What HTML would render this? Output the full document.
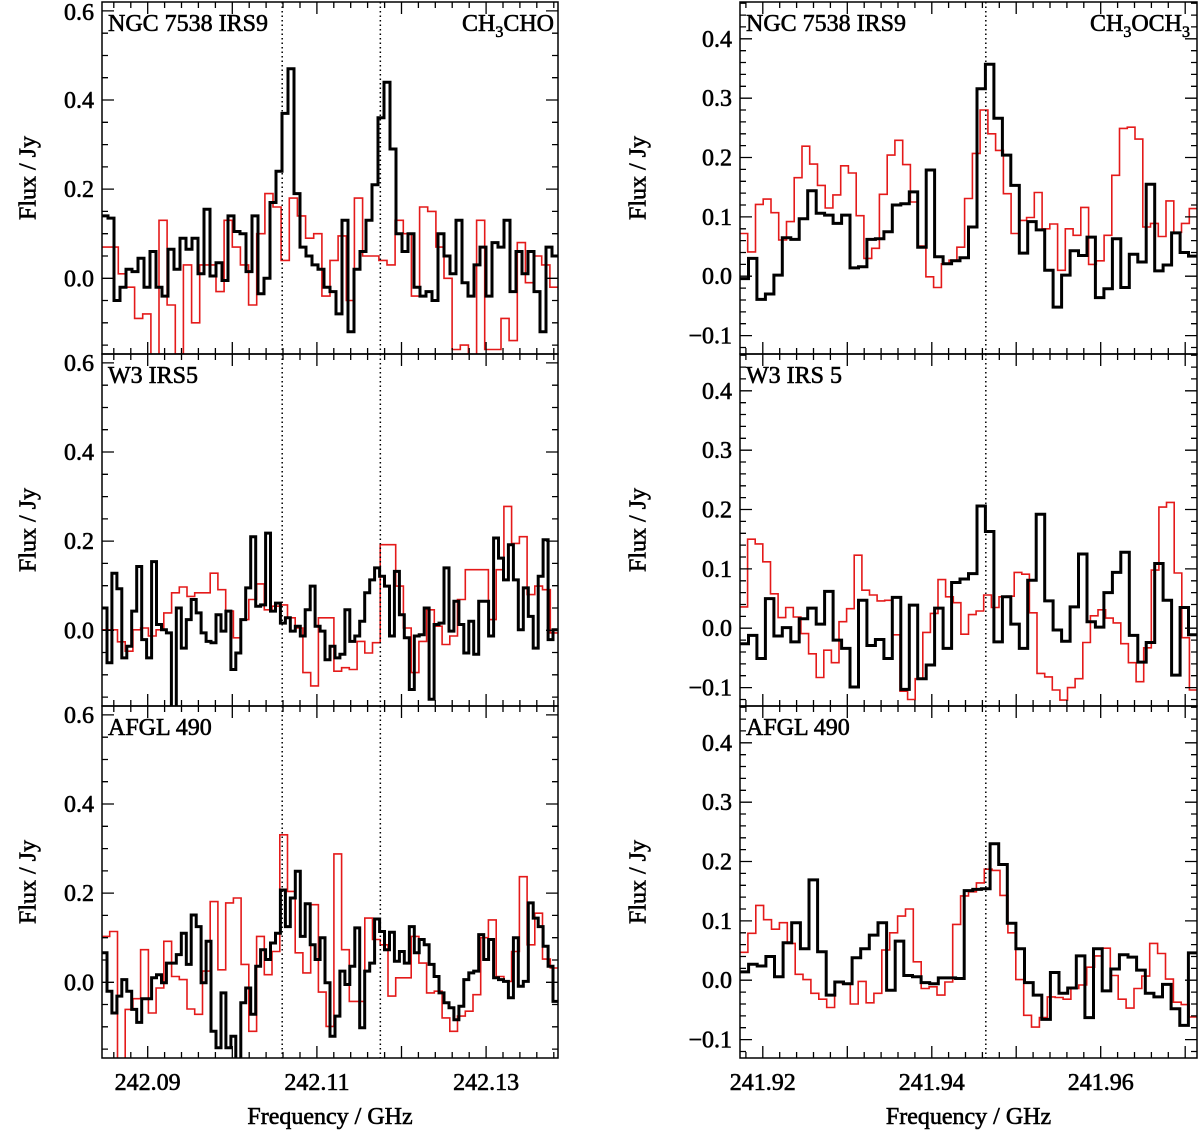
<!DOCTYPE html>
<html><head><meta charset="utf-8"><style>
html,body{margin:0;padding:0;background:#fff;}
svg{display:block;font-family:"Liberation Serif",serif;}
svg text{stroke:#000;stroke-width:0.6px;}
</style></head><body>
<svg id="chart" width="1200" height="1140" viewBox="0 0 1200 1140" xmlns="http://www.w3.org/2000/svg"></svg>
<script>
// ---- data ----
const leftXTicks = [242.09, 242.11, 242.13];
const rightXTicks = [241.92, 241.94, 241.96];
const leftYTicks = [0.0, 0.2, 0.4, 0.6];
const rightYTicks = [-0.1, 0.0, 0.1, 0.2, 0.3, 0.4];
const leftLines = [242.1059, 242.1175];
const rightLines = [241.9464];
const sourceNames = ["NGC 7538 IRS9", "W3 IRS5", "AFGL 490"];
const sourceNamesRight = ["NGC 7538 IRS9", "W3 IRS 5", "AFGL 490"];

const blackL1 = [0.14,0.135,-0.05,-0.02,0.02,0.015,0.045,-0.02,0.06,-0.02,-0.04,0.065,0.02,0.09,0.065,0.09,0.01,0.155,0.005,0.035,-0.005,0.14,0.105,0.1,0.015,0.14,-0.035,0,0.17,0.24,0.37,0.47,0.19,0.07,0.05,0.03,0.02,-0.02,-0.03,-0.08,0.13,-0.12,0.02,0.06,0.13,0.21,0.36,0.44,0.29,0.1,0.06,0.1,-0.02,-0.04,-0.03,-0.05,0.1,0.05,0.01,0.13,-0.01,-0.04,0.03,0.07,-0.04,0.08,0.07,0.13,-0.03,0.06,0.01,0.06,-0.03,-0.12,0.07,0.05];
const redL1 = [0.07,0.07,0.01,-0.02,-0.09,-0.08,-0.2,0.13,-0.06,-0.17,0.03,-0.1,0.03,0.03,-0.03,0.13,0.07,0.03,-0.06,0.1,0.19,0.16,0.04,0.18,0.14,0.09,0.1,-0.04,0.04,0.095,-0.05,0.18,0.05,0.05,0.04,0.03,0.13,0.1,-0.04,0.16,0.15,0.07,0.0,-0.16,-0.15,-0.2,0.13,-0.16,-0.16,-0.09,-0.14,0.08,-0.01,0.05,0.03,-0.02];
const blackL2 = [0.05,-0.073,0.128,0.093,-0.062,-0.036,0.043,0.143,-0.021,-0.062,0.154,0.013,0.001,-0.006,-0.2,0.05,-0.04,0.024,0.069,0.039,-0.006,-0.025,-0.028,0.035,-0.002,0.043,-0.088,-0.051,0.024,0.095,0.21,0.054,0.057,0.218,0.043,0.061,0.016,0.028,-0.002,0.009,-0.013,0.046,0.099,0.009,-0.002,-0.066,-0.036,-0.062,-0.054,0.046,-0.025,-0.013,0.02,0.084,0.113,0.14,0.121,0.099,-0.013,0.132,0.035,-0.017,-0.133,-0.013,-0.01,0.05,-0.155,0.013,0.016,0.14,-0.002,0.065,0.013,-0.051,0.02,-0.054,0.065,0.065,-0.013,0.207,0.162,0.113,0.192,0.113,0.001,0.095,0.031,-0.04,0.121,0.203,-0.021,0.001];
const redL2 = [0.001,0.001,-0.026,-0.047,0.001,0.005,-0.013,0.001,0.039,0.084,0.097,0.076,0.084,0.084,0.128,0.091,0.043,-0.017,0.024,0.069,0.104,0.046,0.054,0.057,0.028,0.005,-0.095,-0.125,0.028,0.028,-0.092,-0.084,-0.088,-0.025,-0.051,-0.028,0.192,0.192,0.099,0.005,-0.095,-0.025,0.046,0.009,-0.032,-0.013,0.069,0.136,0.136,0.136,0.024,0.136,0.278,0.195,0.21,0.08,0.099,0.091,-0.006];
const blackL3 = [0.066,-0.02,-0.069,-0.031,0.006,-0.02,-0.061,-0.09,-0.037,-0.037,0.01,0.017,-0.001,0.043,0.043,0.062,0.11,0.04,0.151,0.125,-0.001,0.092,-0.11,-0.147,-0.024,-0.147,-0.121,-0.25,-0.046,-0.013,-0.072,0.036,0.073,0.051,0.088,0.11,0.207,0.125,0.189,0.249,0.103,0.176,0.084,0.051,0.1,-0.001,-0.121,-0.076,0.025,-0.005,0.036,0.122,-0.102,0.025,0.043,0.142,0.114,0.073,0.112,0.047,0.069,0.043,0.125,0.066,0.096,0.084,0.04,0.013,-0.024,-0.046,-0.057,-0.084,-0.054,0.006,0.021,0.025,0.107,0.051,0.096,0.01,0.006,0.002,-0.035,0.1,-0.009,0.002,0.178,0.144,0.125,0.081,0.036,-0.043];
const redL3 = [0.103,0.114,-0.2,-0.061,-0.037,0.073,-0.069,-0.013,0.092,0.013,0.006,-0.06,-0.072,0.025,0.181,0.028,0.178,0.189,0.04,-0.11,0.103,0.017,0.069,0.331,0.204,0.066,0.021,0.174,-0.022,-0.099,0.288,0.073,-0.043,-0.043,0.144,0.096,0.084,-0.031,0.01,0.01,0.103,0.043,-0.024,-0.02,-0.08,-0.11,-0.076,-0.065,-0.028,0.1,0.14,0.013,0.002,0.069,0.237,0.084,0.155,0.052,0.032];
const blackR1 = [-0.004,0.03,-0.039,-0.03,0.002,0.065,0.062,0.097,0.144,0.106,0.103,0.089,0.103,0.014,0.016,0.062,0.063,0.075,0.12,0.122,0.142,0.049,0.179,0.033,0.021,0.026,0.031,0.083,0.316,0.357,0.266,0.204,0.153,0.039,0.092,0.078,0.01,-0.052,0.002,0.043,0.035,0.066,-0.036,-0.021,0.063,-0.019,0.037,0.024,0.155,0.009,0.019,0.073,0.04,0.034];
const redR1 = [0.072,0.041,0.121,0.13,0.107,0.061,0.092,0.166,0.219,0.189,0.153,0.115,0.137,0.186,0.174,0.102,0.03,0.047,0.138,0.204,0.229,0.188,0.125,0.051,-0.001,-0.019,0.021,0.027,0.049,0.131,0.207,0.28,0.24,0.212,0.139,0.072,0.094,0.099,0.141,0.08,0.088,0.01,0.08,0.069,0.116,0.02,0.026,0.069,0.17,0.249,0.251,0.231,0.083,0.089,0.067,0.127,0.074,0.089,0.114];
const blackR2 = [-0.026,-0.012,-0.051,0.05,-0.013,0.001,-0.023,0.016,0.034,0.007,0.062,-0.02,-0.034,-0.099,0.047,-0.029,-0.019,-0.051,0.052,-0.103,0.039,-0.085,-0.062,0.034,-0.034,0.077,0.083,0.092,0.206,0.163,-0.023,0.053,0.007,-0.034,0.081,0.192,0.046,-0.003,-0.022,0.036,0.125,0.011,0.002,0.06,0.094,0.128,-0.012,-0.057,-0.024,0.109,0.047,-0.079,0.035,-0.011];
const redR2 = [0.036,0.15,0.142,0.112,0.058,0.018,0.035,0.019,-0.009,-0.043,-0.083,-0.037,-0.058,0.011,0.033,0.123,0.064,0.056,0.046,0.047,-0.011,-0.106,-0.12,-0.085,-0.007,0.025,0.082,0.053,0.043,-0.01,0.023,0.029,0.056,0.035,0.053,0.054,0.094,0.091,0.026,-0.076,-0.082,-0.104,-0.121,-0.1,-0.085,-0.024,0.021,0.031,0.017,0.009,-0.026,-0.058,-0.09,-0.033,0.098,0.204,0.212,0.093,-0.016,-0.104];
const blackR3 = [0.014,0.027,0.024,0.04,0.006,0.063,0.097,0.053,0.169,0.048,-0.025,-0.003,-0.006,0.038,0.053,0.076,0.097,-0.017,0.066,0.008,0.006,-0.004,-0.006,0.004,0.004,0.003,0.151,0.153,0.154,0.23,0.195,0.096,0.053,-0.004,-0.025,-0.066,0.013,-0.022,-0.013,0.041,-0.063,0.053,-0.018,0.019,0.043,0.039,0.017,-0.022,-0.028,-0.007,-0.048,-0.076,0.046];
const redR3 = [0.047,0.079,0.126,0.102,0.086,0.097,0.062,0.01,0.001,-0.022,-0.032,-0.046,-0.003,-0.006,-0.04,-0.002,-0.038,-0.022,0.051,0.08,0.108,0.12,0.031,-0.014,-0.011,-0.025,-0.003,0.094,0.142,0.149,0.164,0.187,0.185,0.143,0.08,0.001,-0.059,-0.079,-0.063,-0.028,-0.029,-0.032,-0.014,-0.008,0.022,0.041,0.054,0.008,-0.032,-0.047,-0.014,0.007,0.062,0.045,0.002,-0.037,-0.041,-0.062];

// ---- layout ----
const NS = "http://www.w3.org/2000/svg";
const svg = document.getElementById('chart');
function mk(tag, attrs, parent) {
  const e = document.createElementNS(NS, tag);
  for (const k in attrs) e.setAttribute(k, attrs[k]);
  (parent || svg).appendChild(e);
  return e;
}
const tops = [2, 354, 706];
const PH = 352;
const cols = [
  {x0: 102, x1: 558, f0: 242.0846, f1: 242.1385, y0: -0.17, y1: 0.62, yt: leftYTicks, ym: 0.05, xt: leftXTicks, lines: leftLines,
   series: [[blackL1, redL1], [blackL2, redL2], [blackL3, redL3]], names: sourceNames, titleX: 30, molX: 554, side: 'left'},
  {x0: 740, x1: 1197, f0: 241.9173, f1: 241.9714, y0: -0.131, y1: 0.462, yt: rightYTicks, ym: 0.02, xt: rightXTicks, lines: rightLines,
   series: [[blackR1, redR1], [blackR2, redR2], [blackR3, redR3]], names: sourceNamesRight, titleX: 640, molX: 1190, side: 'right'}
];

cols.forEach((c, ci) => {
  const xs = f => c.x0 + (f - c.f0) / (c.f1 - c.f0) * (c.x1 - c.x0);
  tops.forEach((top, pi) => {
    const ys = v => top + PH - (v - c.y0) / (c.y1 - c.y0) * PH;
    const g = mk('g', {});
    
    
    const cid = 'clip' + ci + pi;
    const cp = mk('clipPath', {id: cid}, g);
    mk('rect', {x: c.x0, y: top, width: c.x1 - c.x0, height: PH}, cp);
    const sg = mk('g', {'clip-path': 'url(#' + cid + ')'}, g);
    const pair = c.series[pi];
    [[pair[1], '#e41a1a', 1.6, 'red-spectrum'], [pair[0], '#000', 3, 'black-spectrum']].forEach(s => {
      const vals = s[0], n = vals.length, df = (c.f1 - c.f0) / n;
      let d = '';
      for (let i = 0; i < n; i++) {
        const fa = c.f0 + i * df, fb = fa + df;
        const y = ys(vals[i]).toFixed(1);
        d += (i === 0 ? 'M' : 'L') + xs(fa).toFixed(1) + ',' + y + 'L' + xs(fb).toFixed(1) + ',' + y;
      }
      const p = mk('path', {d: d, fill: 'none', stroke: s[1], 'stroke-width': s[2], 'stroke-linejoin': 'miter'}, sg);
      
      
    });
    c.lines.forEach(f => {
      const l = mk('line', {x1: xs(f), x2: xs(f), y1: top, y2: top + PH, stroke: '#000', 'stroke-width': 1.5, 'stroke-dasharray': '1.5,3'}, g);
      
      
    });
    const fr = mk('rect', {x: c.x0, y: top, width: c.x1 - c.x0, height: PH, fill: 'none', stroke: '#000', 'stroke-width': 1.5}, g);
    
    
    let tk = '';
    for (let v = Math.ceil(c.y0 / c.ym - 1e-6) * c.ym; v <= c.y1 + 1e-9; v += c.ym) {
      const major = c.yt.some(t => Math.abs(t - v) < 1e-6);
      const L = major ? 12 : 6, y = ys(v).toFixed(1);
      tk += 'M' + c.x0 + ',' + y + 'h' + L + 'M' + c.x1 + ',' + y + 'h' + (-L);
    }
    for (let f = Math.ceil(c.f0 / 0.002 - 1e-6) * 0.002; f <= c.f1; f += 0.002) {
      const major = Math.abs(f / 0.01 - Math.round(f / 0.01)) < 1e-4;
      const L = major ? 12 : 6, x = xs(f).toFixed(1);
      tk += 'M' + x + ',' + (top + PH) + 'v' + (-L) + 'M' + x + ',' + top + 'v' + L;
    }
    const tp = mk('path', {d: tk, stroke: '#000', 'stroke-width': 1.3, fill: 'none'}, g);
    
    
    c.yt.forEach(v => {
      let y = ys(v) + 8;
      if (y < 20) y = 20;
      const t = mk('text', {x: c.x0 - 8, y: y, 'text-anchor': 'end', 'font-size': 24}, g);
      t.textContent = (v < 0 ? '\u2212' + Math.abs(v).toFixed(1) : v.toFixed(1));
      
      
    });
    const cy = top + PH / 2;
    const yt = mk('text', {x: c.titleX, y: cy, 'text-anchor': 'middle', 'font-size': 24, transform: 'rotate(-90 ' + c.titleX + ' ' + cy + ')', 'dominant-baseline': 'middle'}, g);
    yt.textContent = 'Flux / Jy';
    
    
    const sn = mk('text', {x: c.x0 + 6, y: top + 29, 'font-size': 24}, g);
    sn.textContent = c.names[pi];
    
    
    if (pi === 0) {
      const ml = mk('text', {x: c.molX, y: top + 29, 'font-size': 24, 'text-anchor': 'end'}, g);
      if (ci === 0) {
        ml.innerHTML = 'CH<tspan font-size="16" dy="6">3</tspan><tspan dy="-6">CHO</tspan>';
      } else {
        ml.innerHTML = 'CH<tspan font-size="16" dy="6">3</tspan><tspan dy="-6">OCH</tspan><tspan font-size="16" dy="6">3</tspan>';
      }
      
      
    }
  });
  c.xt.forEach(f => {
    const t = mk('text', {x: xs(f), y: 1090, 'text-anchor': 'middle', 'font-size': 24});
    t.textContent = f.toFixed(2);
    
    
  });
  const xt = mk('text', {x: (c.x0 + c.x1) / 2, y: 1124, 'text-anchor': 'middle', 'font-size': 24});
  xt.textContent = 'Frequency / GHz';
  
  
});
</script>
</body></html>
